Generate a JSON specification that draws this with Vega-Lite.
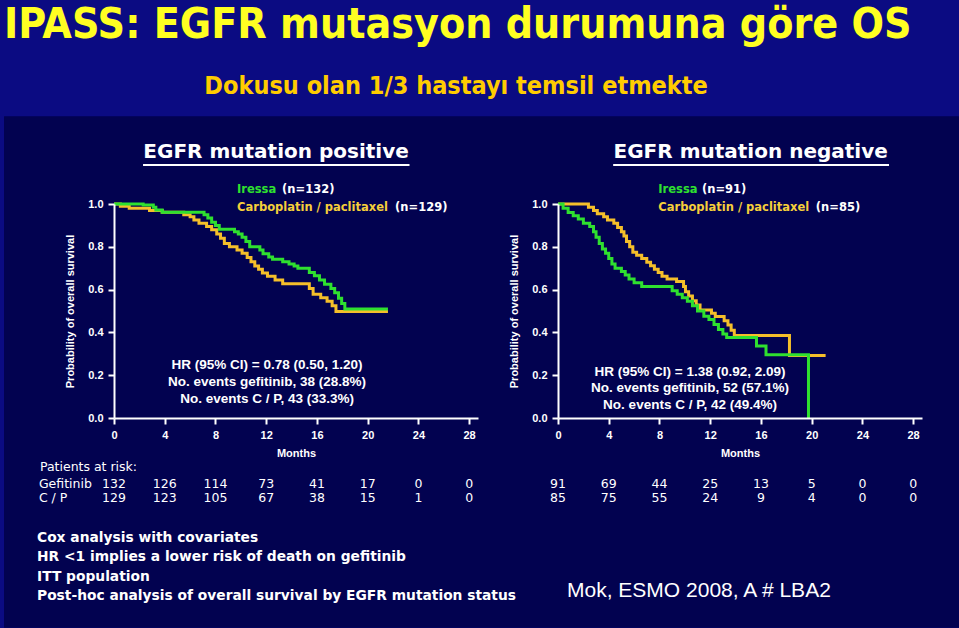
{
  "$schema": "https://vega.github.io/schema/vega-lite/v6.json",
  "background": "#0b0b82",
  "padding": {"top": 3, "left": 4, "right": 0, "bottom": 0},
  "bounds": "flush",
  "spacing": 80,
  "title": {
    "text": "IPASS: EGFR mutasyon durumuna göre OS",
    "anchor": "start",
    "font": "DejaVu Sans Condensed, DejaVu Sans, sans-serif",
    "fontSize": 42.5,
    "fontWeight": "bold",
    "color": "#ffff22",
    "offset": 28
  },
  "config": {
    "view": {"stroke": null},
    "axis": {
      "domainColor": "white",
      "domainWidth": 2,
      "tickColor": "white",
      "tickWidth": 2,
      "tickSize": 6,
      "labelColor": "white",
      "labelFont": "Liberation Sans",
      "labelFontSize": 11,
      "labelFontWeight": "bold",
      "titleColor": "white",
      "titleFont": "Liberation Sans",
      "titleFontWeight": "bold",
      "titleFontSize": 11,
      "grid": false,
      "labelFlush": false
    },
    "text": {"font": "Liberation Sans", "color": "white"}
  },
  "datasets": {
    "km": [
      {"panel": "pos", "arm": "C/P", "month": 0, "survival": 1.0},
      {"panel": "pos", "arm": "C/P", "month": 0.5, "survival": 0.99},
      {"panel": "pos", "arm": "C/P", "month": 1.2, "survival": 0.98},
      {"panel": "pos", "arm": "C/P", "month": 2.8, "survival": 0.97},
      {"panel": "pos", "arm": "C/P", "month": 3.8, "survival": 0.962},
      {"panel": "pos", "arm": "C/P", "month": 5.5, "survival": 0.95},
      {"panel": "pos", "arm": "C/P", "month": 6.0, "survival": 0.94},
      {"panel": "pos", "arm": "C/P", "month": 6.3, "survival": 0.925},
      {"panel": "pos", "arm": "C/P", "month": 6.7, "survival": 0.91},
      {"panel": "pos", "arm": "C/P", "month": 7.3, "survival": 0.895},
      {"panel": "pos", "arm": "C/P", "month": 7.7, "survival": 0.88},
      {"panel": "pos", "arm": "C/P", "month": 8.1, "survival": 0.86},
      {"panel": "pos", "arm": "C/P", "month": 8.4, "survival": 0.84},
      {"panel": "pos", "arm": "C/P", "month": 8.7, "survival": 0.815},
      {"panel": "pos", "arm": "C/P", "month": 9.1, "survival": 0.80},
      {"panel": "pos", "arm": "C/P", "month": 9.7, "survival": 0.785},
      {"panel": "pos", "arm": "C/P", "month": 10.1, "survival": 0.77},
      {"panel": "pos", "arm": "C/P", "month": 10.5, "survival": 0.75},
      {"panel": "pos", "arm": "C/P", "month": 10.8, "survival": 0.73},
      {"panel": "pos", "arm": "C/P", "month": 11.1, "survival": 0.71},
      {"panel": "pos", "arm": "C/P", "month": 11.4, "survival": 0.695},
      {"panel": "pos", "arm": "C/P", "month": 11.7, "survival": 0.678},
      {"panel": "pos", "arm": "C/P", "month": 12.1, "survival": 0.662},
      {"panel": "pos", "arm": "C/P", "month": 12.7, "survival": 0.645},
      {"panel": "pos", "arm": "C/P", "month": 13.3, "survival": 0.627},
      {"panel": "pos", "arm": "C/P", "month": 15.4, "survival": 0.605},
      {"panel": "pos", "arm": "C/P", "month": 15.7, "survival": 0.578},
      {"panel": "pos", "arm": "C/P", "month": 16.3, "survival": 0.562},
      {"panel": "pos", "arm": "C/P", "month": 16.8, "survival": 0.545},
      {"panel": "pos", "arm": "C/P", "month": 17.2, "survival": 0.525},
      {"panel": "pos", "arm": "C/P", "month": 17.5, "survival": 0.498},
      {"panel": "pos", "arm": "C/P", "month": 21.6, "survival": 0.498},
      {"panel": "pos", "arm": "Iressa", "month": 0, "survival": 1.0},
      {"panel": "pos", "arm": "Iressa", "month": 2.3, "survival": 0.995},
      {"panel": "pos", "arm": "Iressa", "month": 3.1, "survival": 0.985},
      {"panel": "pos", "arm": "Iressa", "month": 3.3, "survival": 0.972},
      {"panel": "pos", "arm": "Iressa", "month": 3.8, "survival": 0.962},
      {"panel": "pos", "arm": "Iressa", "month": 7.1, "survival": 0.95},
      {"panel": "pos", "arm": "Iressa", "month": 7.4, "survival": 0.935},
      {"panel": "pos", "arm": "Iressa", "month": 7.7, "survival": 0.915},
      {"panel": "pos", "arm": "Iressa", "month": 8.0, "survival": 0.90},
      {"panel": "pos", "arm": "Iressa", "month": 8.3, "survival": 0.882},
      {"panel": "pos", "arm": "Iressa", "month": 9.5, "survival": 0.87},
      {"panel": "pos", "arm": "Iressa", "month": 9.8, "survival": 0.86},
      {"panel": "pos", "arm": "Iressa", "month": 10.1, "survival": 0.845},
      {"panel": "pos", "arm": "Iressa", "month": 10.4, "survival": 0.825},
      {"panel": "pos", "arm": "Iressa", "month": 10.7, "survival": 0.80},
      {"panel": "pos", "arm": "Iressa", "month": 11.5, "survival": 0.785},
      {"panel": "pos", "arm": "Iressa", "month": 11.75, "survival": 0.767},
      {"panel": "pos", "arm": "Iressa", "month": 12.2, "survival": 0.752},
      {"panel": "pos", "arm": "Iressa", "month": 12.5, "survival": 0.742},
      {"panel": "pos", "arm": "Iressa", "month": 13.3, "survival": 0.73},
      {"panel": "pos", "arm": "Iressa", "month": 13.8, "survival": 0.72},
      {"panel": "pos", "arm": "Iressa", "month": 14.2, "survival": 0.71},
      {"panel": "pos", "arm": "Iressa", "month": 14.5, "survival": 0.70},
      {"panel": "pos", "arm": "Iressa", "month": 15.4, "survival": 0.68},
      {"panel": "pos", "arm": "Iressa", "month": 15.8, "survival": 0.665},
      {"panel": "pos", "arm": "Iressa", "month": 16.2, "survival": 0.645},
      {"panel": "pos", "arm": "Iressa", "month": 16.6, "survival": 0.625},
      {"panel": "pos", "arm": "Iressa", "month": 17.1, "survival": 0.605},
      {"panel": "pos", "arm": "Iressa", "month": 17.4, "survival": 0.585},
      {"panel": "pos", "arm": "Iressa", "month": 17.7, "survival": 0.56},
      {"panel": "pos", "arm": "Iressa", "month": 17.95, "survival": 0.535},
      {"panel": "pos", "arm": "Iressa", "month": 18.2, "survival": 0.509},
      {"panel": "pos", "arm": "Iressa", "month": 21.6, "survival": 0.509},
      {"panel": "neg", "arm": "C/P", "month": 0, "survival": 1.0},
      {"panel": "neg", "arm": "C/P", "month": 2.4, "survival": 0.985},
      {"panel": "neg", "arm": "C/P", "month": 2.8, "survival": 0.97},
      {"panel": "neg", "arm": "C/P", "month": 3.1, "survival": 0.955},
      {"panel": "neg", "arm": "C/P", "month": 3.6, "survival": 0.94},
      {"panel": "neg", "arm": "C/P", "month": 3.9, "survival": 0.925},
      {"panel": "neg", "arm": "C/P", "month": 4.4, "survival": 0.91},
      {"panel": "neg", "arm": "C/P", "month": 4.7, "survival": 0.89},
      {"panel": "neg", "arm": "C/P", "month": 5.0, "survival": 0.87},
      {"panel": "neg", "arm": "C/P", "month": 5.2, "survival": 0.85},
      {"panel": "neg", "arm": "C/P", "month": 5.4, "survival": 0.825},
      {"panel": "neg", "arm": "C/P", "month": 5.65, "survival": 0.80},
      {"panel": "neg", "arm": "C/P", "month": 5.9, "survival": 0.775},
      {"panel": "neg", "arm": "C/P", "month": 6.2, "survival": 0.76},
      {"panel": "neg", "arm": "C/P", "month": 6.6, "survival": 0.745},
      {"panel": "neg", "arm": "C/P", "month": 7.0, "survival": 0.728},
      {"panel": "neg", "arm": "C/P", "month": 7.3, "survival": 0.712},
      {"panel": "neg", "arm": "C/P", "month": 7.6, "survival": 0.695},
      {"panel": "neg", "arm": "C/P", "month": 7.9, "survival": 0.68},
      {"panel": "neg", "arm": "C/P", "month": 8.2, "survival": 0.662},
      {"panel": "neg", "arm": "C/P", "month": 8.6, "survival": 0.65},
      {"panel": "neg", "arm": "C/P", "month": 9.35, "survival": 0.638},
      {"panel": "neg", "arm": "C/P", "month": 9.9, "survival": 0.615},
      {"panel": "neg", "arm": "C/P", "month": 10.05, "survival": 0.59},
      {"panel": "neg", "arm": "C/P", "month": 10.3, "survival": 0.57},
      {"panel": "neg", "arm": "C/P", "month": 10.6, "survival": 0.548},
      {"panel": "neg", "arm": "C/P", "month": 10.9, "survival": 0.528},
      {"panel": "neg", "arm": "C/P", "month": 11.2, "survival": 0.505},
      {"panel": "neg", "arm": "C/P", "month": 12.1, "survival": 0.49},
      {"panel": "neg", "arm": "C/P", "month": 12.4, "survival": 0.474},
      {"panel": "neg", "arm": "C/P", "month": 13.1, "survival": 0.455},
      {"panel": "neg", "arm": "C/P", "month": 13.4, "survival": 0.435},
      {"panel": "neg", "arm": "C/P", "month": 13.65, "survival": 0.41},
      {"panel": "neg", "arm": "C/P", "month": 13.9, "survival": 0.386},
      {"panel": "neg", "arm": "C/P", "month": 18.25, "survival": 0.292},
      {"panel": "neg", "arm": "C/P", "month": 21.1, "survival": 0.292},
      {"panel": "neg", "arm": "Iressa", "month": 0, "survival": 1.0},
      {"panel": "neg", "arm": "Iressa", "month": 0.4, "survival": 0.98},
      {"panel": "neg", "arm": "Iressa", "month": 0.8, "survival": 0.96},
      {"panel": "neg", "arm": "Iressa", "month": 1.2, "survival": 0.945},
      {"panel": "neg", "arm": "Iressa", "month": 1.6, "survival": 0.93},
      {"panel": "neg", "arm": "Iressa", "month": 2.0, "survival": 0.91},
      {"panel": "neg", "arm": "Iressa", "month": 2.5, "survival": 0.895},
      {"panel": "neg", "arm": "Iressa", "month": 2.8, "survival": 0.87},
      {"panel": "neg", "arm": "Iressa", "month": 3.0, "survival": 0.845},
      {"panel": "neg", "arm": "Iressa", "month": 3.25, "survival": 0.815},
      {"panel": "neg", "arm": "Iressa", "month": 3.5, "survival": 0.79},
      {"panel": "neg", "arm": "Iressa", "month": 3.75, "survival": 0.77},
      {"panel": "neg", "arm": "Iressa", "month": 4.0, "survival": 0.745},
      {"panel": "neg", "arm": "Iressa", "month": 4.25, "survival": 0.72},
      {"panel": "neg", "arm": "Iressa", "month": 4.5, "survival": 0.70},
      {"panel": "neg", "arm": "Iressa", "month": 5.0, "survival": 0.685},
      {"panel": "neg", "arm": "Iressa", "month": 5.3, "survival": 0.668},
      {"panel": "neg", "arm": "Iressa", "month": 5.6, "survival": 0.65},
      {"panel": "neg", "arm": "Iressa", "month": 6.0, "survival": 0.632},
      {"panel": "neg", "arm": "Iressa", "month": 6.6, "survival": 0.614},
      {"panel": "neg", "arm": "Iressa", "month": 9.0, "survival": 0.595},
      {"panel": "neg", "arm": "Iressa", "month": 9.4, "survival": 0.578},
      {"panel": "neg", "arm": "Iressa", "month": 9.8, "survival": 0.562},
      {"panel": "neg", "arm": "Iressa", "month": 10.2, "survival": 0.545},
      {"panel": "neg", "arm": "Iressa", "month": 10.6, "survival": 0.525},
      {"panel": "neg", "arm": "Iressa", "month": 11.0, "survival": 0.50},
      {"panel": "neg", "arm": "Iressa", "month": 11.5, "survival": 0.476},
      {"panel": "neg", "arm": "Iressa", "month": 11.9, "survival": 0.46},
      {"panel": "neg", "arm": "Iressa", "month": 12.3, "survival": 0.437},
      {"panel": "neg", "arm": "Iressa", "month": 12.65, "survival": 0.413},
      {"panel": "neg", "arm": "Iressa", "month": 13.0, "survival": 0.392},
      {"panel": "neg", "arm": "Iressa", "month": 13.3, "survival": 0.376},
      {"panel": "neg", "arm": "Iressa", "month": 15.65, "survival": 0.336},
      {"panel": "neg", "arm": "Iressa", "month": 16.4, "survival": 0.295},
      {"panel": "neg", "arm": "Iressa", "month": 19.75, "survival": 0.0}
    ],
    "risk": [
      {"panel": "pos", "arm": "Gefitinib", "month": 0, "n": 132},
      {"panel": "pos", "arm": "Gefitinib", "month": 4, "n": 126},
      {"panel": "pos", "arm": "Gefitinib", "month": 8, "n": 114},
      {"panel": "pos", "arm": "Gefitinib", "month": 12, "n": 73},
      {"panel": "pos", "arm": "Gefitinib", "month": 16, "n": 41},
      {"panel": "pos", "arm": "Gefitinib", "month": 20, "n": 17},
      {"panel": "pos", "arm": "Gefitinib", "month": 24, "n": 0},
      {"panel": "pos", "arm": "Gefitinib", "month": 28, "n": 0},
      {"panel": "pos", "arm": "C/P", "month": 0, "n": 129},
      {"panel": "pos", "arm": "C/P", "month": 4, "n": 123},
      {"panel": "pos", "arm": "C/P", "month": 8, "n": 105},
      {"panel": "pos", "arm": "C/P", "month": 12, "n": 67},
      {"panel": "pos", "arm": "C/P", "month": 16, "n": 38},
      {"panel": "pos", "arm": "C/P", "month": 20, "n": 15},
      {"panel": "pos", "arm": "C/P", "month": 24, "n": 1},
      {"panel": "pos", "arm": "C/P", "month": 28, "n": 0},
      {"panel": "neg", "arm": "Gefitinib", "month": 0, "n": 91},
      {"panel": "neg", "arm": "Gefitinib", "month": 4, "n": 69},
      {"panel": "neg", "arm": "Gefitinib", "month": 8, "n": 44},
      {"panel": "neg", "arm": "Gefitinib", "month": 12, "n": 25},
      {"panel": "neg", "arm": "Gefitinib", "month": 16, "n": 13},
      {"panel": "neg", "arm": "Gefitinib", "month": 20, "n": 5},
      {"panel": "neg", "arm": "Gefitinib", "month": 24, "n": 0},
      {"panel": "neg", "arm": "Gefitinib", "month": 28, "n": 0},
      {"panel": "neg", "arm": "C/P", "month": 0, "n": 85},
      {"panel": "neg", "arm": "C/P", "month": 4, "n": 75},
      {"panel": "neg", "arm": "C/P", "month": 8, "n": 55},
      {"panel": "neg", "arm": "C/P", "month": 12, "n": 24},
      {"panel": "neg", "arm": "C/P", "month": 16, "n": 9},
      {"panel": "neg", "arm": "C/P", "month": 20, "n": 4},
      {"panel": "neg", "arm": "C/P", "month": 24, "n": 0},
      {"panel": "neg", "arm": "C/P", "month": 28, "n": 0}
    ]
  },
  "hconcat": [
    {
      "width": 364,
      "height": 214,
      "layer": [
        {
          "data": {"values": [{}]},
          "mark": {"type": "rect", "color": "#020250"},
          "encoding": {
            "x": {"datum": -8.67, "type": "quantitative"},
            "x2": {"datum": 66.62},
            "y": {"datum": 1.41, "type": "quantitative"},
            "y2": {"datum": -0.98}
          }
        },
        {
          "data": {"name": "km"},
          "transform": [{"filter": "datum.panel == 'pos'"}],
          "mark": {"type": "line", "interpolate": "step-after", "strokeWidth": 3},
          "encoding": {
            "x": {
              "field": "month", "type": "quantitative",
              "scale": {"domain": [0, 28.7], "nice": false, "zero": false},
              "axis": {"values": [0, 4, 8, 12, 16, 20, 24, 28], "title": "Months", "labelPadding": 5, "titlePadding": 7, "zindex": 1}
            },
            "y": {
              "field": "survival", "type": "quantitative",
              "scale": {"domain": [0, 1], "nice": false},
              "axis": {
                "values": [0, 0.1, 0.2, 0.3, 0.4, 0.5, 0.6, 0.7, 0.8, 0.9, 1.0],
                "labelExpr": "round(datum.value * 10) % 2 == 0 ? format(datum.value, '.1f') : ''",
                "title": "Probability of overall survival",
                "labelPadding": 5,
                "titlePadding": 12,
                "zindex": 1
              }
            },
            "color": {
              "field": "arm", "type": "nominal",
              "scale": {"domain": ["C/P", "Iressa"], "range": ["#f5bf2a", "#2fe02f"]},
              "legend": null
            }
          }
        },
        {
          "data": {"values": [{}]},
          "mark": {"type": "rule", "color": "white", "strokeWidth": 2},
          "encoding": {
            "x": {"datum": 2.29, "type": "quantitative"},
            "x2": {"datum": 23.3},
            "y": {"datum": 1.182, "type": "quantitative"}
          }
        },
        {
          "data": {"values": [{}]},
          "mark": {"type": "text", "font": "DejaVu Sans", "fontSize": 20, "fontWeight": "bold", "align": "center", "baseline": "middle"},
          "encoding": {
            "x": {"datum": 12.78, "type": "quantitative"},
            "y": {"datum": 1.243, "type": "quantitative"},
            "text": {"value": "EGFR mutation positive"}
          }
        },
        {
          "data": {"values": [{}]},
          "mark": {"type": "text", "fontSize": 25, "fontWeight": "bold", "align": "center", "baseline": "middle", "color": "#ffcc00", "font": "DejaVu Sans Condensed, DejaVu Sans, sans-serif"},
          "encoding": {
            "x": {"datum": 26.97, "type": "quantitative"},
            "y": {"datum": 1.551, "type": "quantitative"},
            "text": {"value": "Dokusu olan 1/3 hastayı temsil etmekte"}
          }
        },
        {
          "data": {"values": [{}]},
          "mark": {"type": "text", "font": "DejaVu Sans", "fontSize": 11.5, "fontWeight": "bold", "align": "left", "baseline": "middle", "color": "#2fe02f"},
          "encoding": {
            "x": {"datum": 9.7, "type": "quantitative"},
            "y": {"datum": 1.065, "type": "quantitative"},
            "text": {"value": "Iressa"}
          }
        },
        {
          "data": {"values": [{}]},
          "mark": {"type": "text", "font": "DejaVu Sans", "fontSize": 11.5, "fontWeight": "bold", "align": "left", "baseline": "middle"},
          "encoding": {
            "x": {"datum": 13.25, "type": "quantitative"},
            "y": {"datum": 1.065, "type": "quantitative"},
            "text": {"value": "(n=132)"}
          }
        },
        {
          "data": {"values": [{}]},
          "mark": {"type": "text", "font": "DejaVu Sans", "fontSize": 11.5, "fontWeight": "bold", "align": "left", "baseline": "middle", "color": "#f5cf3a"},
          "encoding": {
            "x": {"datum": 9.7, "type": "quantitative"},
            "y": {"datum": 0.981, "type": "quantitative"},
            "text": {"value": "Carboplatin / paclitaxel"}
          }
        },
        {
          "data": {"values": [{}]},
          "mark": {"type": "text", "font": "DejaVu Sans", "fontSize": 11.5, "fontWeight": "bold", "align": "left", "baseline": "middle"},
          "encoding": {
            "x": {"datum": 22.16, "type": "quantitative"},
            "y": {"datum": 0.981, "type": "quantitative"},
            "text": {"value": "(n=129)"}
          }
        },
        {
          "data": {"values": [{}]},
          "mark": {"type": "text", "fontSize": 13.5, "fontWeight": "bold", "align": "center", "baseline": "middle", "lineHeight": 17},
          "encoding": {
            "x": {"datum": 12.07, "type": "quantitative"},
            "y": {"datum": 0.248, "type": "quantitative"},
            "text": {"value": ["HR (95% CI) = 0.78 (0.50, 1.20)", "No. events gefitinib,  38 (28.8%)", "No. events C / P,  43 (33.3%)"]}
          }
        },
        {
          "data": {"values": [{}]},
          "mark": {"type": "text", "font": "DejaVu Sans", "fontSize": 12.5, "align": "left", "baseline": "middle"},
          "encoding": {
            "x": {"datum": -5.84, "type": "quantitative"},
            "y": {"datum": -0.229, "type": "quantitative"},
            "text": {"value": "Patients at risk:"}
          }
        },
        {
          "data": {"values": [{}]},
          "mark": {"type": "text", "font": "DejaVu Sans", "fontSize": 12.5, "align": "left", "baseline": "middle", "lineHeight": 14},
          "encoding": {
            "x": {"datum": -5.92, "type": "quantitative"},
            "y": {"datum": -0.308, "type": "quantitative"},
            "text": {"value": ["Gefitinib", "C / P"]}
          }
        },
        {
          "data": {"name": "risk"},
          "transform": [{"filter": "datum.panel == 'pos' && datum.arm == 'Gefitinib'"}],
          "mark": {"type": "text", "font": "DejaVu Sans", "fontSize": 12.5, "align": "center", "baseline": "middle"},
          "encoding": {
            "x": {"field": "month", "type": "quantitative"},
            "y": {"datum": -0.308, "type": "quantitative"},
            "text": {"field": "n", "type": "quantitative"}
          }
        },
        {
          "data": {"name": "risk"},
          "transform": [{"filter": "datum.panel == 'pos' && datum.arm == 'C/P'"}],
          "mark": {"type": "text", "font": "DejaVu Sans", "fontSize": 12.5, "align": "center", "baseline": "middle"},
          "encoding": {
            "x": {"field": "month", "type": "quantitative"},
            "y": {"datum": -0.374, "type": "quantitative"},
            "text": {"field": "n", "type": "quantitative"}
          }
        },
        {
          "data": {"values": [{}]},
          "mark": {"type": "text", "font": "DejaVu Sans", "fontSize": 13.8, "fontWeight": "bold", "align": "left", "baseline": "middle", "lineHeight": 19.3},
          "encoding": {
            "x": {"datum": -6.07, "type": "quantitative"},
            "y": {"datum": -0.561, "type": "quantitative"},
            "text": {"value": ["Cox analysis with covariates", "HR <1 implies a lower risk of death on gefitinib", "ITT population", "Post-hoc analysis of overall survival by EGFR mutation status"]}
          }
        }
      ]
    },
    {
      "width": 364,
      "height": 214,
      "layer": [
        {
          "data": {"name": "km"},
          "transform": [{"filter": "datum.panel == 'neg'"}],
          "mark": {"type": "line", "interpolate": "step-after", "strokeWidth": 3},
          "encoding": {
            "x": {
              "field": "month", "type": "quantitative",
              "scale": {"domain": [0, 28.7], "nice": false, "zero": false},
              "axis": {"values": [0, 4, 8, 12, 16, 20, 24, 28], "title": "Months", "labelPadding": 5, "titlePadding": 7, "zindex": 1}
            },
            "y": {
              "field": "survival", "type": "quantitative",
              "scale": {"domain": [0, 1], "nice": false},
              "axis": {
                "values": [0, 0.1, 0.2, 0.3, 0.4, 0.5, 0.6, 0.7, 0.8, 0.9, 1.0],
                "labelExpr": "round(datum.value * 10) % 2 == 0 ? format(datum.value, '.1f') : ''",
                "title": "Probability of overall survival",
                "labelPadding": 5,
                "titlePadding": 12,
                "zindex": 1
              }
            },
            "color": {
              "field": "arm", "type": "nominal",
              "scale": {"domain": ["C/P", "Iressa"], "range": ["#f5bf2a", "#2fe02f"]},
              "legend": null
            }
          }
        },
        {
          "data": {"values": [{}]},
          "mark": {"type": "rule", "color": "white", "strokeWidth": 2},
          "encoding": {
            "x": {"datum": 4.35, "type": "quantitative"},
            "x2": {"datum": 26.1},
            "y": {"datum": 1.182, "type": "quantitative"}
          }
        },
        {
          "data": {"values": [{}]},
          "mark": {"type": "text", "font": "DejaVu Sans", "fontSize": 20, "fontWeight": "bold", "align": "center", "baseline": "middle"},
          "encoding": {
            "x": {"datum": 15.19, "type": "quantitative"},
            "y": {"datum": 1.243, "type": "quantitative"},
            "text": {"value": "EGFR mutation negative"}
          }
        },
        {
          "data": {"values": [{}]},
          "mark": {"type": "text", "font": "DejaVu Sans", "fontSize": 11.5, "fontWeight": "bold", "align": "left", "baseline": "middle", "color": "#2fe02f"},
          "encoding": {
            "x": {"datum": 7.91, "type": "quantitative"},
            "y": {"datum": 1.065, "type": "quantitative"},
            "text": {"value": "Iressa"}
          }
        },
        {
          "data": {"values": [{}]},
          "mark": {"type": "text", "font": "DejaVu Sans", "fontSize": 11.5, "fontWeight": "bold", "align": "left", "baseline": "middle"},
          "encoding": {
            "x": {"datum": 11.35, "type": "quantitative"},
            "y": {"datum": 1.065, "type": "quantitative"},
            "text": {"value": "(n=91)"}
          }
        },
        {
          "data": {"values": [{}]},
          "mark": {"type": "text", "font": "DejaVu Sans", "fontSize": 11.5, "fontWeight": "bold", "align": "left", "baseline": "middle", "color": "#f5cf3a"},
          "encoding": {
            "x": {"datum": 7.91, "type": "quantitative"},
            "y": {"datum": 0.981, "type": "quantitative"},
            "text": {"value": "Carboplatin / paclitaxel"}
          }
        },
        {
          "data": {"values": [{}]},
          "mark": {"type": "text", "font": "DejaVu Sans", "fontSize": 11.5, "fontWeight": "bold", "align": "left", "baseline": "middle"},
          "encoding": {
            "x": {"datum": 20.33, "type": "quantitative"},
            "y": {"datum": 0.981, "type": "quantitative"},
            "text": {"value": "(n=85)"}
          }
        },
        {
          "data": {"values": [{}]},
          "mark": {"type": "text", "fontSize": 13.5, "fontWeight": "bold", "align": "center", "baseline": "middle", "lineHeight": 16.5},
          "encoding": {
            "x": {"datum": 10.41, "type": "quantitative"},
            "y": {"datum": 0.215, "type": "quantitative"},
            "text": {"value": ["HR (95% CI) = 1.38 (0.92, 2.09)", "No. events gefitinib, 52 (57.1%)", "No. events C / P, 42 (49.4%)"]}
          }
        },
        {
          "data": {"name": "risk"},
          "transform": [{"filter": "datum.panel == 'neg' && datum.arm == 'Gefitinib'"}],
          "mark": {"type": "text", "font": "DejaVu Sans", "fontSize": 12.5, "align": "center", "baseline": "middle"},
          "encoding": {
            "x": {"field": "month", "type": "quantitative"},
            "y": {"datum": -0.308, "type": "quantitative"},
            "text": {"field": "n", "type": "quantitative"}
          }
        },
        {
          "data": {"name": "risk"},
          "transform": [{"filter": "datum.panel == 'neg' && datum.arm == 'C/P'"}],
          "mark": {"type": "text", "font": "DejaVu Sans", "fontSize": 12.5, "align": "center", "baseline": "middle"},
          "encoding": {
            "x": {"field": "month", "type": "quantitative"},
            "y": {"datum": -0.374, "type": "quantitative"},
            "text": {"field": "n", "type": "quantitative"}
          }
        },
        {
          "data": {"values": [{}]},
          "mark": {"type": "text", "fontSize": 21, "align": "left", "baseline": "middle"},
          "encoding": {
            "x": {"datum": 0.71, "type": "quantitative"},
            "y": {"datum": -0.808, "type": "quantitative"},
            "text": {"value": "Mok, ESMO 2008, A # LBA2"}
          }
        }
      ]
    }
  ]
}
